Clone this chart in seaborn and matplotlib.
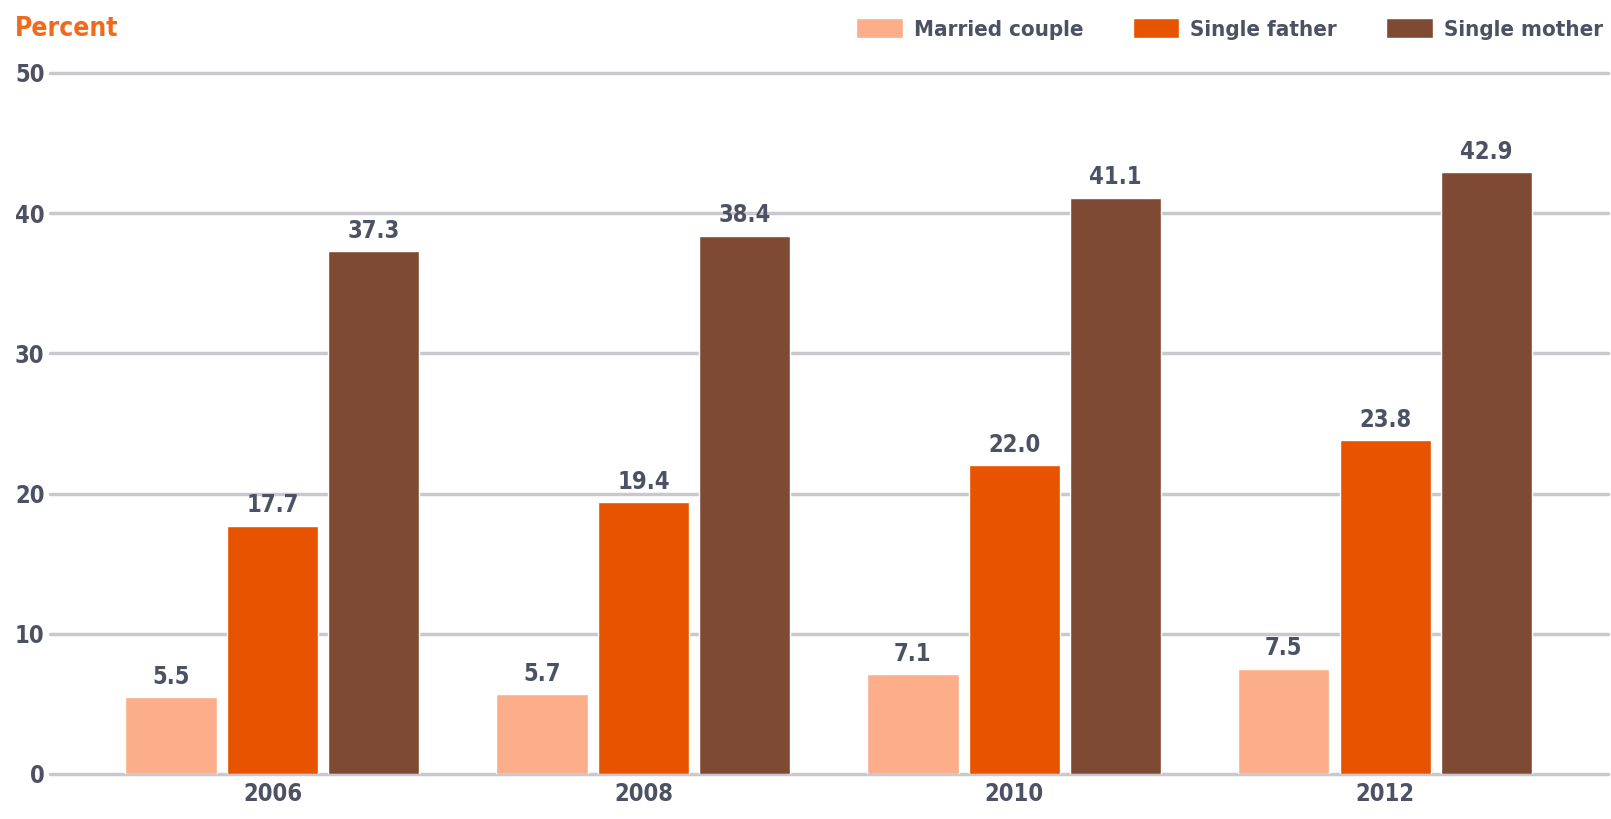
import numpy as np
import pandas as pd
import seaborn as sns
from matplotlib import pyplot as plt

years = ["2006", "2008", "2010", "2012"]
groups = ["Married couple", "Single father", "Single mother"]
married = [5.5, 5.7, 7.1, 7.5]
father = [17.7, 19.4, 22.0, 23.8]
mother = [37.3, 38.4, 41.1, 42.9]
colors = ["#FBAE89", "#E85300", "#7F4A33"]

df = pd.DataFrame({
    "year": years * 3,
    "group": [g for g in groups for _ in years],
    "pct": married + father + mother,
})

sns.set_theme(style="white")
plt.rcParams["font.family"] = ["DejaVu Sans"]
plt.rcParams["font.stretch"] = "condensed"
plt.rcParams["font.weight"] = "bold"
txt = "#4C5263"

fig = plt.figure(figsize=(16.11, 8.19), dpi=100)
ax = fig.add_axes([0.031, 0.055, 0.967, 0.856])

sns.barplot(data=df, x="year", y="pct", hue="group", palette=colors,
            width=0.82, gap=0.1, saturation=1, ax=ax, zorder=3)

for cont in ax.containers:
    ax.bar_label(cont, fmt="%.1f", padding=6, color=txt, fontsize=17)

ax.set_ylim(0, 50)
ax.set_xlim(-0.6, 3.6)
ax.set_yticks([0, 10, 20, 30, 40, 50])
ax.yaxis.grid(True, color="#C9C9CD", linewidth=2.5, zorder=0)
for l in ax.get_ygridlines():
    l.set_clip_on(False)
ax.xaxis.grid(False)
for s in ax.spines.values():
    s.set_visible(False)
ax.tick_params(axis="both", length=0, labelsize=17, colors=txt, pad=6)
ax.tick_params(axis="y", pad=4)
ax.set_xlabel("")
ax.set_ylabel("")

fig.text(0.009, 0.964, "Percent", color="#F06A1E", fontsize=19,
         fontweight="bold", va="center", ha="left")

# legend across the top right, in figure coords
sns.move_legend(ax, "center right", bbox_to_anchor=(0.995, 0.965),
                bbox_transform=fig.transFigure, ncol=3,
                frameon=False, title=None, fontsize=16, handlelength=2.1,
                handleheight=1.05, handletextpad=0.5, columnspacing=2.2,
                borderaxespad=0, borderpad=0)
for t in ax.get_legend().get_texts():
    t.set_color(txt)

fig.savefig("out.png", dpi=100)
